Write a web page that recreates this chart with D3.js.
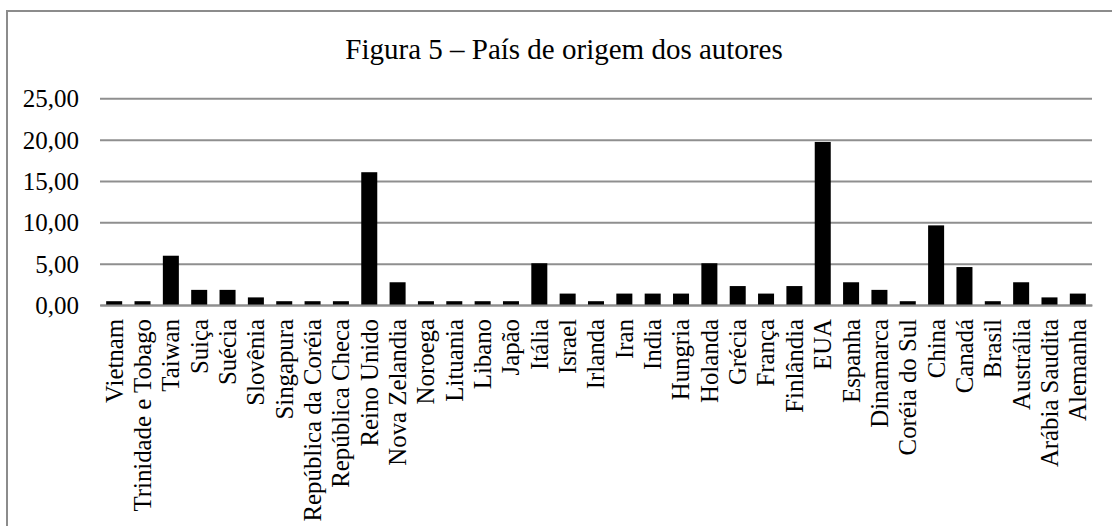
<!DOCTYPE html>
<html lang="pt">

<head>
  <meta charset="UTF-8">
  <title>Figura 5</title>
  <script src="https://cdn.jsdelivr.net/npm/d3@7"></script>
  <style>
    body {
      margin: 0;
      background: #fff;
    }

    svg text {
      font-family: "Liberation Serif", "Times New Roman", serif;
      fill: #000;
    }
  </style>
</head>

<body>
  <div id="container"></div>

  <script>
    const svg_width = 1112;
    const svg_height = 526;

    // dados
    var paises = ["Vietnam", "Trinidade e Tobago", "Taiwan", "Suiça", "Suécia", "Slovênia", "Singapura",
      "República da Coréia", "República Checa", "Reino Unido", "Nova Zelandia", "Noroega", "Lituania",
      "Libano", "Japão", "Itália", "Israel", "Irlanda", "Iran", "India", "Hungria", "Holanda", "Grécia",
      "França", "Finlândia", "EUA", "Espanha", "Dinamarca", "Coréia do Sul", "China", "Canadá", "Brasil",
      "Austrália", "Arábia Saudita", "Alemanha"];
    var percentuais = [0.46, 0.46, 5.96, 1.83, 1.83, 0.92, 0.46, 0.46, 0.46, 16.06, 2.75, 0.46, 0.46,
      0.46, 0.46, 5.05, 1.38, 0.46, 1.38, 1.38, 1.38, 5.05, 2.29, 1.38, 2.29, 19.72, 2.75, 1.83, 0.46,
      9.63, 4.59, 0.46, 2.75, 0.92, 1.38];
    var y_ticks = [0, 5, 10, 15, 20, 25];
    var titulo = "Figura 5 – País de origem dos autores";

    var svg = d3.select("#container")
      .append('svg')
      .attr('width', svg_width)
      .attr('height', svg_height);

    // moldura
    svg.append('rect')
      .attr('x', 7)
      .attr('y', 11)
      .attr('width', svg_width + 20)
      .attr('height', svg_height + 20)
      .attr('fill', 'none')
      .attr('stroke', '#8c8c8c')
      .attr('stroke-width', 2);

    // titulo
    svg.append('text')
      .attr('x', 564)
      .attr('y', 59)
      .attr('text-anchor', 'middle')
      .style('font-size', '29px')
      .text(titulo);

    var left = 100, right = 1092, top_y = 98.3, base_y = 305;

    var x_scale = d3.scaleBand()
      .domain(paises)
      .range([left, right])
      .paddingInner(0.435)
      .paddingOuter(0.2175);

    var y_scale = d3.scaleLinear()
      .domain([0, 25])
      .range([base_y, top_y]);

    // eixo y com linhas de grade
    var y_axis = d3.axisLeft(y_scale)
      .tickValues(y_ticks)
      .tickSize(-(right - left))
      .tickPadding(21)
      .tickFormat(function (d) {
        return d3.format('.2f')(d).replace('.', ',');
      });
    var gy = svg.append('g')
      .attr('transform', 'translate(' + left + ',0)')
      .call(y_axis);
    gy.select('.domain').remove();
    gy.selectAll('line')
      .attr('stroke', '#8f8f8f')
      .attr('stroke-width', 2);
    gy.selectAll('text')
      .attr('dy', '0.34em')
      .style('font-size', '25px');

    // barras
    svg.append('g')
      .selectAll('rect')
      .data(percentuais)
      .enter()
      .append('rect')
      .attr('x', function (d, i) {
        return x_scale(paises[i]);
      })
      .attr('y', function (d) {
        return y_scale(d);
      })
      .attr('width', x_scale.bandwidth())
      .attr('height', function (d) {
        return base_y - y_scale(d);
      })
      .attr('fill', '#000');

    // eixo x
    var x_axis = d3.axisBottom(x_scale).tickSize(0);
    var gx = svg.append('g')
      .attr('transform', 'translate(0,' + base_y + ')')
      .call(x_axis);
    gx.select('.domain')
      .attr('stroke', '#8f8f8f')
      .attr('stroke-width', 2);
    gx.selectAll('text')
      .attr('transform', 'rotate(-90)')
      .attr('text-anchor', 'end')
      .attr('x', -14)
      .attr('y', 0)
      .attr('dy', '0.34em')
      .style('font-size', '24.8px');
  </script>

</body>

</html>
